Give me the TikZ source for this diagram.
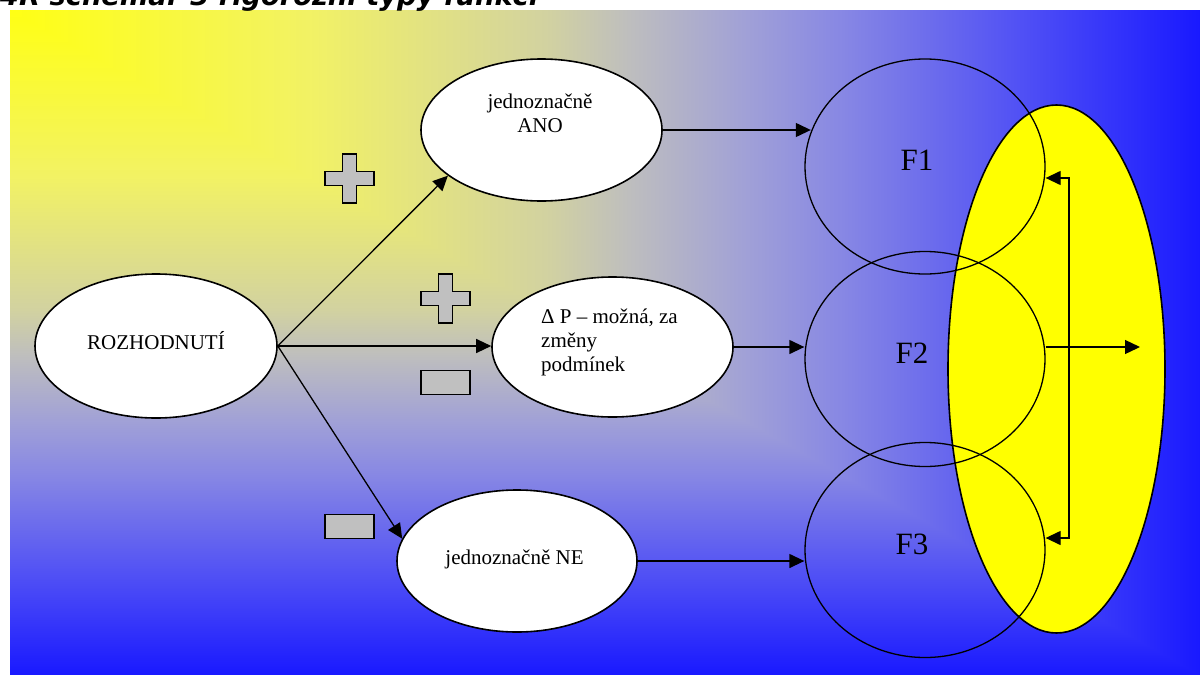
\documentclass[tikz,border=0pt]{standalone}
\usepackage{fontspec}
\usepackage{graphicx}
\setmainfont{Liberation Serif}
\newfontfamily\titlefont[BoldItalicFont={DejaVu Sans Bold Oblique}]{DejaVu Sans}
\usetikzlibrary{arrows.meta,shapes.geometric}

% colour stops of the corner gradient (yellow -> silver -> blue)
\definecolor{g0}{RGB}{255,255,20}
\definecolor{g1}{RGB}{242,242,100}
\definecolor{g2}{RGB}{210,210,160}
\definecolor{g3}{RGB}{190,190,190}
\definecolor{g4}{RGB}{160,160,215}
\definecolor{g5}{RGB}{135,135,228}
\definecolor{g6}{RGB}{80,80,245}
\definecolor{g7}{RGB}{25,25,255}
\definecolor{signgray}{RGB}{192,192,192}
\definecolor{ovalyellow}{RGB}{255,255,0}

% left-to-right part of the gradient (box spans 25bp..75bp)
\pgfdeclarehorizontalshading{bgh}{100bp}{color(0bp)=(g0); color(25bp)=(g0);
  color(37.5bp)=(g1); color(47.5bp)=(g2); color(51bp)=(g3); color(56bp)=(g4);
  color(60bp)=(g5); color(67.5bp)=(g6); color(75bp)=(g7); color(100bp)=(g7)}
% top-to-bottom part of the gradient (0bp is the bottom)
\pgfdeclareverticalshading{bgv}{100bp}{color(0bp)=(g7); color(25bp)=(g7);
  color(32.5bp)=(g6); color(40bp)=(g5); color(44bp)=(g4); color(49bp)=(g3);
  color(52.5bp)=(g2); color(62.5bp)=(g1); color(75bp)=(g0); color(100bp)=(g0)}

\tikzset{
  bubble/.style={ellipse, draw, fill=white, line width=1.6pt, inner sep=0pt,
    minimum width=241pt, minimum height=142pt},
  fcircle/.style={ellipse, draw, line width=1.3pt, inner sep=0pt,
    minimum width=240pt, minimum height=215pt},
  arr/.style={-{Triangle[length=15pt,width=14pt]}, line width=1.3pt},
  dblarr/.style={{Triangle[length=15pt,width=14pt]}-{Triangle[length=15pt,width=14pt]}, line width=1.3pt},
  lbl/.style={font=\fontsize{21}{23.7}\selectfont, inner sep=0pt},
  flbl/.style={font=\fontsize{31}{31}\selectfont, inner sep=0pt},
  sign/.style={draw, fill=signgray, line width=1.3pt},
  pics/plussign/.style={code={
    \draw[sign] (-24.5,-7) -- (-7,-7) -- (-7,-24.5) -- (7,-24.5) -- (7,-7)
      -- (24.5,-7) -- (24.5,7) -- (7,7) -- (7,24.5) -- (-7,24.5) -- (-7,7)
      -- (-24.5,7) -- cycle;}},
  pics/minussign/.style={code={
    \draw[sign] (-24.5,-12) rectangle (24.5,12);}},
}

\begin{document}
\begin{tikzpicture}[x=1pt, y=-1pt]
  \useasboundingbox (0,0) rectangle (1200,675);
  \fill[white] (0,0) rectangle (1200,675);

  % corner gradient: vertical ramp below the diagonal, horizontal ramp above it
  \shade[shading=bgv] (10,10) rectangle (1200,675);
  \shade[shading=bgh] (10,10) -- (1200,10) -- (1200,675) -- cycle;

  % heading, partly above the page
  \node[anchor=base west, inner sep=0pt] (title) at (0,5)
    {\resizebox{538pt}{!}{\titlefont\bfseries\itshape 4R schéma: 3 rigorózní typy funkcí}};

  % yellow oval behind the function circles
  \node[ellipse, draw, fill=ovalyellow, line width=1.6pt, inner sep=0pt,
    minimum width=217pt, minimum height=528pt] (yel) at (1056.5,369) {};

  % decision ovals
  \node[bubble, minimum width=242pt, minimum height=144pt] (rozh) at (156,346) {};
  \node[bubble] (ano) at (541.5,130) {};
  \node[bubble, minimum height=140pt] (dp) at (612.5,347) {};
  \node[bubble, minimum width=240pt] (ne) at (517,561) {};

  % multi-line labels are placed by the baseline of their last line
  \node[lbl, anchor=base] (rozhtxt) at (156,349) {ROZHODNUTÍ};
  \node[lbl, anchor=base, align=center] (anotxt) at (540,132) {jednoznačně\\ANO};
  \node[lbl, anchor=base west, align=left] (dptxt) at (541,371)
    {Δ P – možná, za\\změny\\podmínek};
  \node[lbl, anchor=base] (netxt) at (514.5,564) {jednoznačně NE};

  % function circles
  \node[fcircle] (f1) at (925,166.5) {};
  \node[fcircle] (f2) at (925,359) {};
  \node[fcircle] (f3) at (925,550) {};
  \node[flbl, anchor=base] (f1txt) at (917,170) {F1};
  \node[flbl, anchor=base] (f2txt) at (912,363) {F2};
  \node[flbl, anchor=base] (f3txt) at (912,554) {F3};

  % plus / minus markers
  \pic at (349.5,178.5) {plussign};
  \pic at (445.5,298.5) {plussign};
  \pic at (445.5,382.5) {minussign};
  \pic at (349.5,526.5) {minussign};

  % branches of the decision
  \draw[arr] (rozh.east) -- (ano.206);
  \draw[arr] (rozh.east) -- (rozh.east -| dp.west);
  \draw[arr] (rozh.east) -- (ne.169);

  \draw[arr] (ano.east) -- (ano.east -| f1.163);
  \draw[arr] (dp.east) -- (dp.east -| f2.west);
  \draw[arr] (ne.east) -- (ne.east -| f3.west);

  % output of F2 and the feedback bracket to F1 and F3
  \coordinate (out) at (1140,347);
  \draw[arr] (out -| f2.east) -- (out);
  \coordinate (bt) at (1069,178);
  \coordinate (bb) at (1069,538);
  \draw[dblarr] (bt -| f1.east) -- (bt) -- (bb) -- (bb -| f3.east);
\end{tikzpicture}
\end{document}
